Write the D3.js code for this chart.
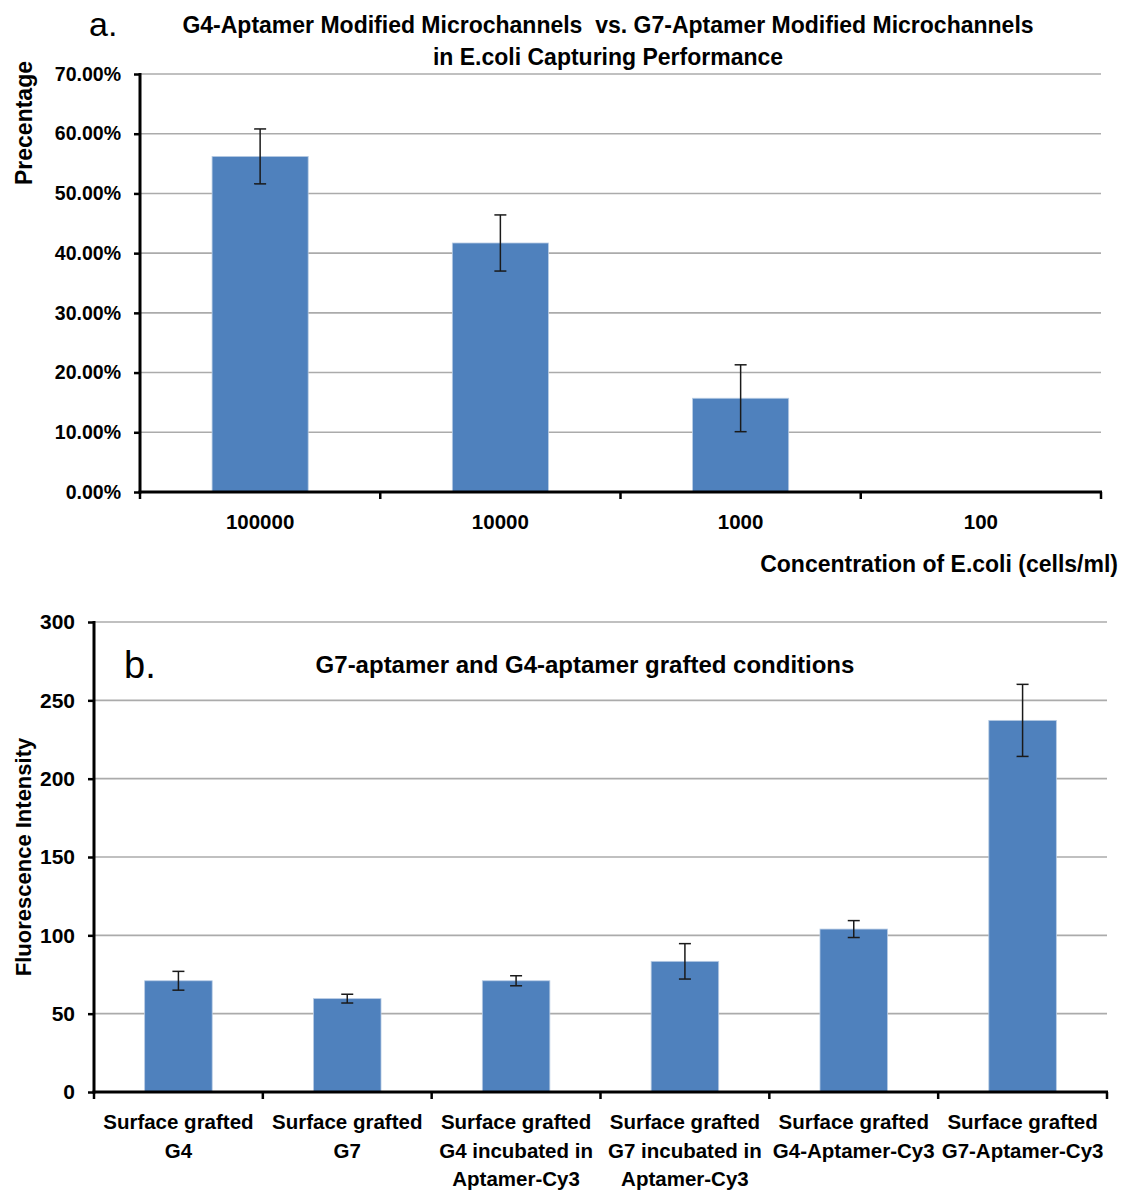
<!DOCTYPE html>
<html><head><meta charset="utf-8">
<script src="https://cdn.jsdelivr.net/npm/d3@7"></script>
<style>
body{margin:0;background:#fff;}
svg text{font-family:"Liberation Sans",Arial,sans-serif;fill:#000;}
</style></head>
<body><svg id="chart" width="1122" height="1191"></svg>
<script>
// ---- Panel a data ----
const catsA = ["100000", "10000", "1000", "100"];
const valsA = [56.2, 41.7, 15.7, 0];
const errA = [4.6, 4.7, 5.6, 0];
const ticksA = [0, 10, 20, 30, 40, 50, 60, 70];
const tickLabelsA = ["0.00%", "10.00%", "20.00%", "30.00%", "40.00%", "50.00%", "60.00%", "70.00%"];
const titleA = ["G4-Aptamer Modified Microchannels  vs. G7-Aptamer Modified Microchannels", "in E.coli Capturing Performance"];
const yTitleA = "Precentage";
const xTitleA = "Concentration of E.coli (cells/ml)";

// ---- Panel b data ----
const catsB = [
  ["Surface grafted", "G4"],
  ["Surface grafted", "G7"],
  ["Surface grafted", "G4 incubated in", "Aptamer-Cy3"],
  ["Surface grafted", "G7 incubated in", "Aptamer-Cy3"],
  ["Surface grafted", "G4-Aptamer-Cy3"],
  ["Surface grafted", "G7-Aptamer-Cy3"]
];
const valsB = [71.0, 59.6, 71.0, 83.4, 104.0, 237.2];
const errB = [6.0, 2.8, 3.2, 11.3, 5.4, 23.0];
const ticksB = [0, 50, 100, 150, 200, 250, 300];
const titleB = "G7-aptamer and G4-aptamer grafted conditions";
const yTitleB = "Fluorescence Intensity";

const BAR = "#4F81BD", GRID = "#ababab";
const svg = d3.select("#chart");

function panel(o) {
  const g = svg.append("g");
  const x = d3.scaleBand().domain(o.cats.map((d, i) => i)).range([o.x0, o.x1]).paddingInner(0.6).paddingOuter(0.3);
  const y = d3.scaleLinear().domain(o.yDomain).range([o.y0, o.y1]);
  // grid
  g.selectAll(".grid").data(o.ticks.filter(t => t !== o.yDomain[0])).join("line")
    .attr("x1", o.x0).attr("x2", o.x1).attr("y1", d => y(d)).attr("y2", d => y(d))
    .attr("stroke", GRID).attr("stroke-width", 1.6);
  // bars
  g.selectAll(".bar").data(o.vals).join("rect")
    .attr("x", (d, i) => x(i)).attr("width", x.bandwidth())
    .attr("y", d => y(d)).attr("height", d => y(0) - y(d))
    .attr("fill", BAR).attr("stroke", "#b8cce4").attr("stroke-width", 0.8);
  // error bars
  const eg = g.selectAll(".err").data(o.vals.map((v, i) => ({v, e: o.errs[i], i})).filter(d => d.e > 0)).join("g");
  eg.append("line").attr("x1", d => x(d.i) + x.bandwidth() / 2).attr("x2", d => x(d.i) + x.bandwidth() / 2)
    .attr("y1", d => y(d.v + d.e)).attr("y2", d => y(d.v - d.e)).attr("stroke", "#1a1a1a").attr("stroke-width", 1.5);
  [1, -1].forEach(s => {
    eg.append("line").attr("x1", d => x(d.i) + x.bandwidth() / 2 - 6).attr("x2", d => x(d.i) + x.bandwidth() / 2 + 6)
      .attr("y1", d => y(d.v + s * d.e)).attr("y2", d => y(d.v + s * d.e)).attr("stroke", "#1a1a1a").attr("stroke-width", 1.5);
  });
  // y axis
  const ya = d3.axisLeft(y).tickValues(o.ticks).tickSize(6).tickPadding(o.tickPad).tickFormat((d, i) => o.tickLabels[i]);
  const yg = g.append("g").attr("transform", `translate(${o.x0},0)`).call(ya);
  yg.select(".domain").attr("stroke", "#000").attr("stroke-width", 3).attr("d", `M0,${o.y1 - 1}V${o.y0 + 1.5}`);
  yg.selectAll(".tick line").attr("stroke", "#000").attr("stroke-width", 2.5);
  yg.selectAll(".tick text").attr("font-size", o.tickFont).attr("font-weight", "bold").attr("fill", "#000")
    .style("font-family", '"Liberation Sans",Arial,sans-serif');
  // x axis line and boundary ticks
  g.append("line").attr("x1", o.x0 - 1.5).attr("x2", o.x1 + 1).attr("y1", o.y0).attr("y2", o.y0).attr("stroke", "#000").attr("stroke-width", 3);
  const step = x.step();
  g.selectAll(".xt").data(d3.range(o.cats.length + 1)).join("line")
    .attr("x1", i => o.x0 + i * step).attr("x2", i => o.x0 + i * step)
    .attr("y1", o.y0).attr("y2", o.y0 + 7).attr("stroke", "#000").attr("stroke-width", 2.5);
  return {x, y, g};
}

// Panel a
const A = panel({cats: catsA, vals: valsA, errs: errA, x0: 140, x1: 1101, y0: 492, y1: 74, yDomain: [0, 70],
  ticks: ticksA, tickLabels: tickLabelsA, tickFont: 19.5, tickPad: 13});
A.g.selectAll(".xl").data(catsA).join("text")
  .attr("x", (d, i) => A.x(i) + A.x.bandwidth() / 2).attr("y", 529)
  .attr("text-anchor", "middle").attr("font-size", 20.5).attr("font-weight", "bold").text(d => d);
svg.append("text").attr("x", 1118).attr("y", 572).attr("text-anchor", "end").attr("font-size", 23).attr("font-weight", "bold").text(xTitleA);
svg.append("text").attr("x", 89).attr("y", 36).attr("font-size", 34).text("a.");
titleA.forEach((t, i) => svg.append("text").attr("x", 608).attr("y", 33 + i * 32).attr("text-anchor", "middle")
  .attr("font-size", 23).attr("font-weight", "bold").attr("xml:space", "preserve").style("white-space", "pre").text(t));
svg.append("text").attr("transform", "translate(32,123) rotate(-90)").attr("text-anchor", "middle")
  .attr("font-size", 23).attr("font-weight", "bold").text(yTitleA);

// Panel b
const B = panel({cats: catsB, vals: valsB, errs: errB, x0: 94, x1: 1107, y0: 1092, y1: 622, yDomain: [0, 300],
  ticks: ticksB, tickLabels: ticksB.map(String), tickFont: 21, tickPad: 13});
catsB.forEach((lines, i) => {
  lines.forEach((ln, j) => {
    B.g.append("text").attr("x", B.x(i) + B.x.bandwidth() / 2).attr("y", 1129 + j * 28.5)
      .attr("text-anchor", "middle").attr("font-size", 20.5).attr("font-weight", "bold").text(ln);
  });
});
svg.append("text").attr("x", 124).attr("y", 678).attr("font-size", 38).text("b.");
svg.append("text").attr("x", 585).attr("y", 673).attr("text-anchor", "middle").attr("font-size", 24).attr("font-weight", "bold").text(titleB);
svg.append("text").attr("transform", "translate(31,857) rotate(-90)").attr("text-anchor", "middle")
  .attr("font-size", 22).attr("font-weight", "bold").text(yTitleB);
</script></body></html>
